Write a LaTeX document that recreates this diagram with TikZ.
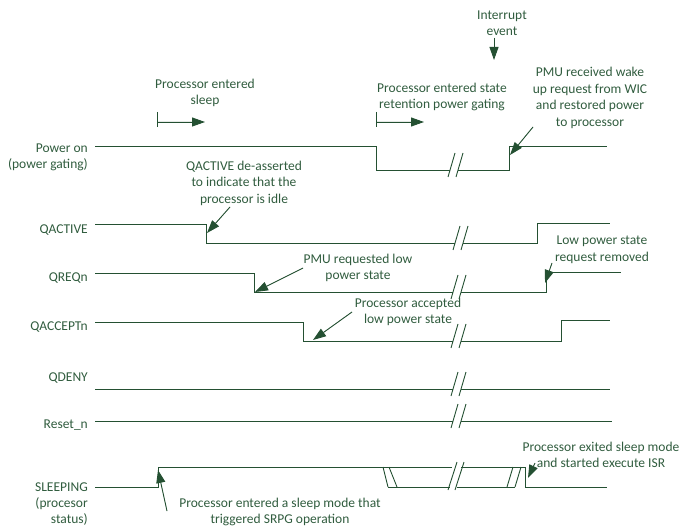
\documentclass[tikz,border=0pt]{standalone}
\usepackage{fontspec}
\setmainfont{Carlito}
\usetikzlibrary{arrows.meta}
\definecolor{wave}{RGB}{36,80,50}
\definecolor{ink}{RGB}{48,92,62}
% two slanted strokes marking a time break, line ends at #1 and resumes at #1+8
\newcommand{\gapmark}[2]{%
  \draw[sig] (#1-2,#2+7) -- (#1+5,#2-17);
  \draw[sig] (#1+6,#2+7) -- (#1+13,#2-17);}
\begin{document}
\begin{tikzpicture}[x=1pt, y=-1pt,
  sig/.style={draw=wave, line width=0.9pt},
  lbl/.style={text=ink, font=\fontsize{13.5}{16}\selectfont, align=right, anchor=east, inner sep=0pt},
  note/.style={text=ink, font=\fontsize{13.5}{16.5}\selectfont, align=center, inner sep=0pt},
  pointer/.style={draw=wave, line width=0.9pt, -{Triangle[length=13pt, width=9pt]}, fill=wave}]
\useasboundingbox (0,0) rectangle (687,529);

% signal names
\node[lbl] (pwr) at (88,157) {Power on\\(power gating)};
\node[lbl] (qact) at (88,230) {QACTIVE};
\node[lbl] (qreq) at (88,278) {QREQn};
\node[lbl] (qacc) at (88,327) {QACCEPTn};
\node[lbl] (qdeny) at (88,378) {QDENY};
\node[lbl] (rst) at (88,425) {Reset\_n};
\node[lbl] (slp) at (88,504) {SLEEPING\\(procesor\\status)};

% waveforms
\draw[sig] (95,146) -- (376,146) -- (376,170) -- (450,170);
\draw[sig] (458,170) -- (509,170) -- (509,146) -- (607,146);
\gapmark{450}{170}
\draw[sig] (95,224) -- (206,224) -- (206,243) -- (455,243);
\draw[sig] (463,243) -- (537,243) -- (537,223) -- (610,223);
\gapmark{455}{243}
\draw[sig] (95,273) -- (254,273) -- (254,292) -- (453,292);
\draw[sig] (461,292) -- (546,292) -- (546,272) -- (621,272);
\gapmark{453}{292}
\draw[sig] (95,322) -- (303,322) -- (303,341) -- (453,341);
\draw[sig] (461,341) -- (561,341) -- (561,320) -- (610,320);
\gapmark{453}{341}
\draw[sig] (95,389) -- (453,389);
\draw[sig] (461,389) -- (610,389);
\gapmark{453}{389}
\draw[sig] (95,421) -- (453,421);
\draw[sig] (461,421) -- (612,421);
\gapmark{453}{421}
\draw[sig] (95,487) -- (158,487) -- (158,467) -- (452,467);
\draw[sig] (388,487) -- (450,487);
\draw[sig] (383,467) -- (388,487);
\draw[sig] (389,467) -- (397,487);
\draw[sig] (448,490) -- (457,462);
\draw[sig] (455,490) -- (464,462);
\draw[sig] (461,467) -- (525,467) -- (525,487) -- (607,487);
\draw[sig] (457,487) -- (515,487);
\draw[sig] (507,487) -- (513,467);
\draw[sig] (515,487) -- (521,467);

% phase markers
\node[note] (sleepTxt) at (205,93) {Processor entered\\sleep};
\coordinate (sleepA) at (157,122);
\coordinate (sleepB) at (205,122);
\draw[sig] (157,112) -- (157,127);
\draw[pointer] (sleepA) -- (sleepB);

\node[note] (srpgTxt) at (442,97) {Processor entered state\\retention power gating};
\coordinate (srpgA) at (376,122);
\coordinate (srpgB) at (424,122);
\draw[sig] (376,112) -- (376,127);
\draw[pointer] (srpgA) -- (srpgB);

\node[note] (irqTxt) at (502,23) {Interrupt\\event};
\coordinate (irqA) at (494,38);
\coordinate (irqB) at (494,60);
\draw[pointer] (irqA) -- (irqB);

% annotations
\node[note] (wakeTxt) at (590,98) {PMU received wake\\up request from WIC\\and restored power\\to processor};
\coordinate (wakeA) at (533,127);
\coordinate (wakeB) at (510,155);
\draw[pointer] (wakeA) -- (wakeB);

\node[note] (idleTxt) at (244,183) {QACTIVE de-asserted\\to indicate that the\\processor is idle};
\coordinate (idleA) at (230,207);
\coordinate (idleB) at (207,233);
\draw[pointer] (idleA) -- (idleB);

\node[note] (reqTxt) at (358,268) {PMU requested low\\power state};
\coordinate (reqA) at (303,268);
\coordinate (reqB) at (255,292);
\draw[pointer] (reqA) -- (reqB);

\node[note] (accTxt) at (408,312) {Processor accepted\\low power state};
\coordinate (accA) at (352,312);
\coordinate (accB) at (313,340);
\draw[pointer] (accA) -- (accB);

\node[note] (remTxt) at (602,250) {Low power state\\request removed};
\coordinate (remA) at (552,263);
\coordinate (remB) at (545,283);
\draw[pointer] (remA) -- (remB);

\node[note] (exitTxt) at (601,455) {Processor exited sleep mode\\and started execute ISR};
\coordinate (exitA) at (535,463);
\coordinate (exitB) at (528,478);
\draw[pointer] (exitA) -- (exitB);

\node[note] (enterTxt) at (280,512) {Processor entered a sleep mode that\\triggered SRPG operation};
\coordinate (enterA) at (167,511);
\coordinate (enterB) at (158,470);
\draw[pointer] (enterA) -- (enterB);
\end{tikzpicture}
\end{document}
